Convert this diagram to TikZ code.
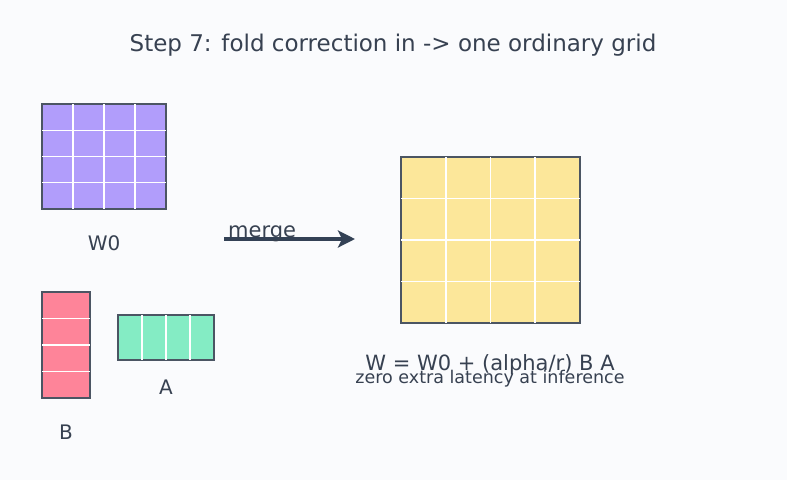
\documentclass[tikz,border=0pt]{standalone}
\usepackage{fontspec}
\setmainfont{DejaVu Sans}
\usetikzlibrary{arrows.meta,positioning}
\definecolor{bgcol}{HTML}{FAFBFD}
\definecolor{edgecol}{HTML}{4B5563}
\definecolor{txtcol}{HTML}{374151}
\definecolor{arrowcol}{HTML}{334155}
\definecolor{purplecol}{HTML}{B19DFB}
\definecolor{pinkcol}{HTML}{FE8499}
\definecolor{greencol}{HTML}{84ECC4}
\definecolor{yellowcol}{HTML}{FCE79A}
\tikzset{
  mat/.style={draw=edgecol, line width=2pt, inner sep=0pt, outer sep=0pt},
  gridline/.style={white, line width=1.2pt},
  lbl/.style={text=txtcol, font=\fontsize{20}{24}\selectfont}
}
\begin{document}
\begin{tikzpicture}[x=1pt,y=-1pt]
        % --- fondo ---
        \fill[bgcol] (0,0) rectangle (787,480);
        \useasboundingbox (0,0) rectangle (787,480);
        % --- titolo ---
        \node[text=txtcol, font=\fontsize{23}{27}\selectfont] (title) at (393,45) {Step 7: fold correction in -> one ordinary grid};
        % --- matrice W0 (4x4) ---
        \node[mat, fill=purplecol, minimum width=124pt, minimum height=105pt] (w0) at (104,156.5) {};
        \foreach \x in {73,104,135} \draw[gridline] (\x,104) -- (\x,209);
        \foreach \y in {130.25,156.5,182.75} \draw[gridline] (42,\y) -- (166,\y);
        \node[lbl] (w0lbl) at (104,243) {W0};
        % --- matrice B (4x1) ---
        \node[mat, fill=pinkcol, minimum width=48pt, minimum height=106pt] (bmat) at (66,345) {};
        \foreach \y in {318.5,345,371.5} \draw[gridline] (42,\y) -- (90,\y);
        \node[lbl] (blbl) at (66,432) {B};
        % --- matrice A (1x4) ---
        \node[mat, fill=greencol, minimum width=96pt, minimum height=45pt] (amat) at (166,337.5) {};
        \foreach \x in {142,166,190} \draw[gridline] (\x,315) -- (\x,360);
        \node[lbl] (albl) at (166,387) {A};
        % --- freccia merge ---
        \coordinate (mstart) at (224,239);
        \coordinate (mend) at (355,239);
        \draw[arrowcol, line width=4pt, -{Stealth[length=17pt,width=17pt,inset=4pt]}] (mstart) -- (mend);
        \node[lbl, anchor=west, inner sep=0pt, font=\fontsize{21}{25}\selectfont] (mlbl) at (228,234) {merge};
        % --- matrice risultante W (4x4) ---
        \node[mat, fill=yellowcol, minimum width=179pt, minimum height=166pt] (merged) at (490.5,240) {};
        \foreach \x in {446,490.5,535} \draw[gridline] (\x,157) -- (\x,323);
        \foreach \y in {198.5,240,281.5} \draw[gridline] (401,\y) -- (580,\y);
        \node[lbl, font=\fontsize{21}{25}\selectfont] (formula) at (490,365) {W = W0 + (alpha/r) B A};
        \node[text=txtcol, font=\fontsize{17.5}{21}\selectfont] (note) at (490,379) {zero extra latency at inference};
\end{tikzpicture}
\end{document}
